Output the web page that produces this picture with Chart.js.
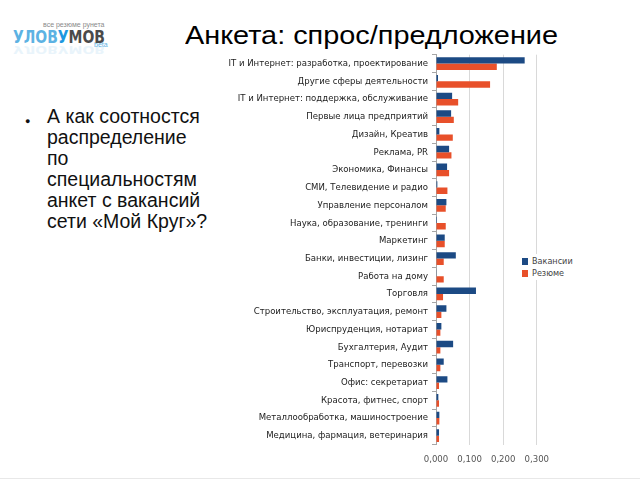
<!DOCTYPE html>
<html>
<head>
<meta charset="utf-8">
<script src="https://cdn.jsdelivr.net/npm/chart.js@4"></script>
<style>
  body { margin: 0; width: 640px; height: 480px; background: #fff; position: relative; overflow: hidden; font-family: "Liberation Sans", Arial, sans-serif; }
  #logo { position: absolute; left: 0; top: 0; width: 130px; height: 70px; }
  #logo .tag { position: absolute; left: 43px; top: 21px; font-size: 7px; color: #8a8a8a; white-space: nowrap; }
  #logo .word { position: absolute; left: 13px; top: 27px; font: bold 17px "DejaVu Sans", sans-serif; white-space: nowrap; transform-origin: 0 0; }
  #logo .word .a { color: #5cb2e3; }
  #logo .word .b { color: #1c98e0; }
  #logo .word .c { color: #4a4a4a; }
  #logo .beta { position: absolute; left: 94px; top: 41px; font-size: 7px; color: #5cb2e3; }
  #logo .mirror { position: absolute; left: 13px; top: 40px; font: bold 17px "DejaVu Sans", sans-serif; white-space: nowrap; color: #8cc8ec; opacity: 0.18; transform-origin: 0 50%; }
  #title { position: absolute; left: 185px; top: 20px; font-size: 26px; color: #000; white-space: nowrap; transform-origin: 0 0; }
  #side { position: absolute; left: 25px; top: 106px; font-size: 19.5px; line-height: 21px; color: #111; }
  #side .dot { position: absolute; left: 0; top: 5px; font-size: 9px; }
  #side .txt { margin-left: 22px; }
  #wrap { position: absolute; left: 220px; top: 45px; width: 338px; height: 429px; }
  #legend { position: absolute; left: 521px; top: 254px; background: #fff; font: 9px "DejaVu Sans Condensed", "DejaVu Sans", sans-serif; color: #444; padding: 1px 2px 1px 1px; }
  #legend div { height: 12px; line-height: 12px; white-space: nowrap; }
  #legend span { display: inline-block; width: 6px; height: 7px; margin-right: 4px; vertical-align: -1px; }
  #rule { position: absolute; left: 0; top: 478px; width: 640px; height: 1px; background: #e8e8e8; }
</style>
</head>
<body>
<div id="logo">
  <div class="tag">все резюме рунета</div>
  <div class="word" id="word"><span class="a">УЛОВ</span><span class="b">У</span><span class="c">МОВ</span></div>
  <div class="beta">beta</div>
  <div class="mirror" id="mirror">УЛОВУМОВ</div>
</div>
<div id="title">Анкета: спрос/предложение</div>
<div id="side"><span class="dot">●</span><div class="txt">А как соотностся<br>распределение<br>по<br>специальностям<br>анкет с вакансий<br>сети «Мой Круг»?</div></div>
<div id="wrap"><canvas id="c"></canvas></div>
<div id="legend"></div>
<div id="rule"></div>
<script>
// categories, top to bottom
var categories = [
  'IT и Интернет: разработка, проектирование',
  'Другие сферы деятельности',
  'IT и Интернет: поддержка, обслуживание',
  'Первые лица предприятий',
  'Дизайн, Креатив',
  'Реклама, PR',
  'Экономика, Финансы',
  'СМИ, Телевидение и радио',
  'Управление персоналом',
  'Наука, образование, тренинги',
  'Маркетинг',
  'Банки, инвестиции, лизинг',
  'Работа на дому',
  'Торговля',
  'Строительство, эксплуатация, ремонт',
  'Юриспруденция, нотариат',
  'Бухгалтерия, Аудит',
  'Транспорт, перевозки',
  'Офис: секретариат',
  'Красота, фитнес, спорт',
  'Металлообработка, машиностроение',
  'Медицина, фармация, ветеринария'
];

var vacancies = [0.264, 0.006, 0.048, 0.045, 0.010, 0.039, 0.033, 0.004, 0.031, 0.003, 0.026,
                 0.059, 0.002, 0.119, 0.031, 0.016, 0.051, 0.023, 0.034, 0.007, 0.010, 0.009];
var resumes = [0.181, 0.161, 0.066, 0.053, 0.050, 0.046, 0.039, 0.034, 0.029, 0.029, 0.026,
               0.023, 0.023, 0.021, 0.016, 0.013, 0.013, 0.013, 0.009, 0.009, 0.010, 0.009];

var seriesNames = ['Вакансии', 'Резюме'];
var xTicks = [0, 0.1, 0.2, 0.3];

var colors = ['#1c4a84', '#e8502a'];

// stretch a text block to a given width
function fitWidth(el, w, extra) {
    var s = w / el.getBoundingClientRect().width;
    el.style.transform = 'scaleX(' + s + ')' + (extra || '');
}
fitWidth(document.getElementById('title'), 373);
fitWidth(document.getElementById('word'), 92);
fitWidth(document.getElementById('mirror'), 92, ' scaleY(-0.6)');

var chart = new Chart(document.getElementById('c'), {
    type: 'bar',
    data: {
        labels: categories,
        datasets: [
            { label: seriesNames[0], data: vacancies, backgroundColor: colors[0] },
            { label: seriesNames[1], data: resumes, backgroundColor: colors[1] }
        ]
    },
    options: {
        indexAxis: 'y',
        responsive: true,
        maintainAspectRatio: false,
        animation: false,
        categoryPercentage: 0.72,
        barPercentage: 1.0,
        layout: { padding: { top: 9, right: 20, bottom: 0, left: 0 } },
        plugins: { legend: { display: false }, tooltip: { enabled: false } },
        scales: {
            x: {
                min: 0,
                max: 0.3,
                afterBuildTicks: function(axis) {
                    axis.ticks = xTicks.map(function(v) { return { value: v }; });
                },
                border: { display: false },
                grid: { color: '#d9d9d9', drawTicks: false },
                ticks: {
                    padding: 9,
                    color: '#555',
                    font: { family: 'DejaVu Sans Condensed', size: 9.5 },
                    callback: function(v) { return v.toFixed(3).replace('.', ','); }
                }
            },
            y: {
                afterFit: function(axis) { axis.width = 216; },
                border: { display: true, color: '#a6a6a6' },
                grid: { drawOnChartArea: false, tickLength: 4, color: '#a6a6a6', offset: true },
                ticks: {
                    padding: 4,
                    color: '#222',
                    font: { family: 'DejaVu Sans Condensed', size: 9.5 }
                }
            }
        }
    }
});

// legend built from the datasets
var legend = document.getElementById('legend');
chart.data.datasets.forEach(function(ds) {
    var row = document.createElement('div');
    row.innerHTML = '<span style="background:' + ds.backgroundColor + '"></span>' + ds.label;
    legend.appendChild(row);
});
</script>
</body>
</html>
